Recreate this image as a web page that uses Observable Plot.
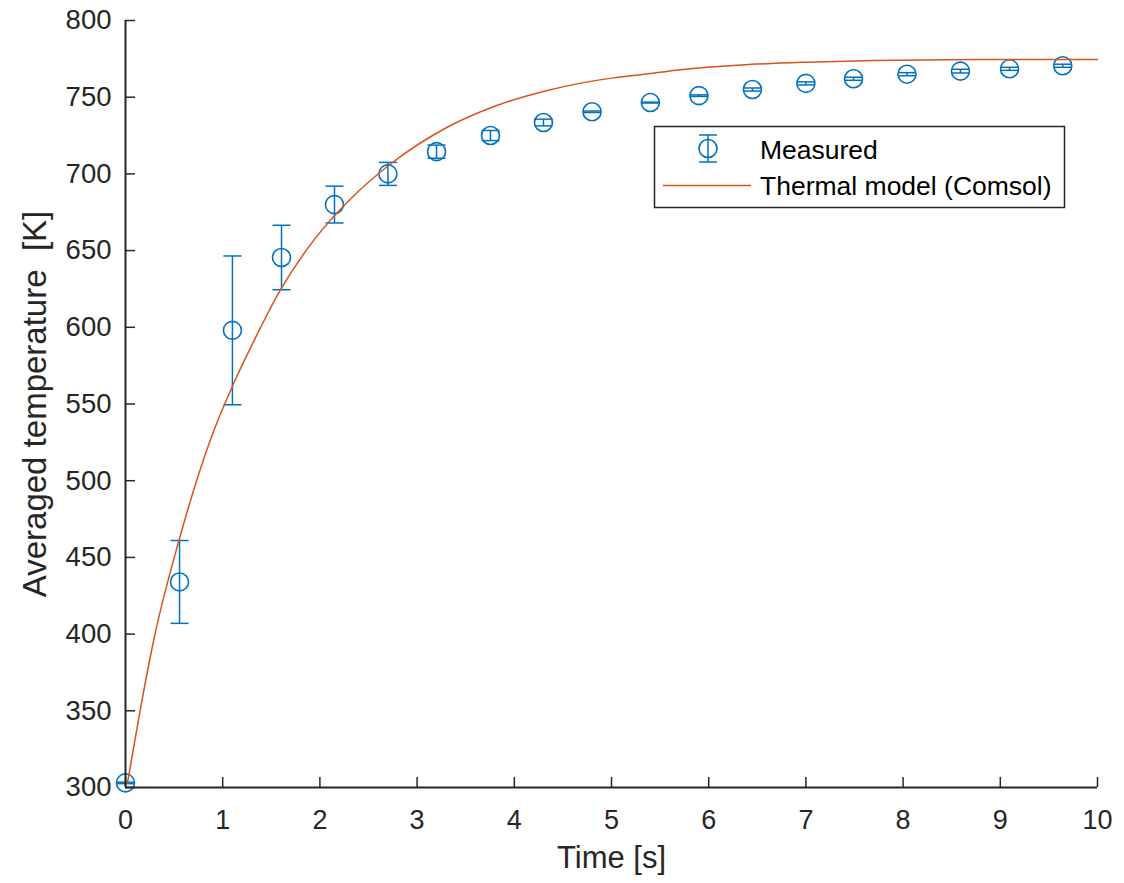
<!DOCTYPE html>
<html>
<head>
<meta charset="utf-8">
<script src="https://cdn.jsdelivr.net/npm/d3@7"></script>
<script src="https://cdn.jsdelivr.net/npm/@observablehq/plot@0.6"></script>
<style>
  html, body { margin: 0; padding: 0; background: #fff; }
  #wrap { position: relative; width: 1124px; height: 883px; font-family: "Liberation Sans", Arial, sans-serif; }
  #legend { position: absolute; left: 0; top: 0; pointer-events: none; }
</style>
</head>
<body>
<div id="wrap"></div>
<script>
// Measured data (time [s], averaged temperature [K], error half-width [K])
const measTime = [0, 0.556, 1.10, 1.605, 2.15, 2.70, 3.20, 3.755, 4.30, 4.80, 5.40, 5.90, 6.45, 7.00, 7.49, 8.04, 8.59, 9.095, 9.643];
const measTemp = [303, 434, 598, 645.5, 680, 700, 714.5, 725, 733.5, 740.5, 746.5, 751, 755, 759, 762, 765, 767, 768.5, 770.5];
const measErr  = [0.5, 27, 48.5, 21, 12, 7.5, 4.3, 3.3, 2.2, 0.5, 0.3, 0.5, 1, 1, 1, 1, 1.2, 1, 1];

// Thermal model (Comsol) curve
const modelTime = [0.02, 0.15, 0.29, 0.55, 0.87, 1.11, 1.32, 1.60, 1.94, 2.32, 2.73, 3.31, 3.82, 4.34, 5.02, 5.30, 5.71, 6.33, 7.00, 7.70, 8.72, 10.0];
const modelTemp = [303, 350, 396, 461, 526, 563, 591, 625, 657, 684, 706.6, 730.4, 744.6, 754.4, 762.6, 764.6, 767.9, 771.0, 772.8, 773.9, 774.5, 774.6];

// Axis ticks
const xTicks = [0, 1, 2, 3, 4, 5, 6, 7, 8, 9, 10];
const yTicks = [300, 350, 400, 450, 500, 550, 600, 650, 700, 750, 800];

const measured = measTime.map((t, i) => ({t, T: measTemp[i], e: measErr[i]}));
const model = modelTime.map((t, i) => ({t, T: modelTemp[i]}));

const blue = "#0072BD", orange = "#D95319", axisColor = "#262626";
const capSymbol = { draw(ctx) { ctx.moveTo(-9, 0); ctx.lineTo(9, 0); } };

const chart = Plot.plot({
  width: 1124,
  height: 883,
  marginLeft: 125,
  marginRight: 27,
  marginTop: 20,
  marginBottom: 96,
  style: { fontFamily: "'Liberation Sans', Arial, sans-serif", color: axisColor, background: "#fff" },
  x: { domain: [0, 10] },
  y: { domain: [300, 800] },
  marks: [
    Plot.axisX({ticks: xTicks, tickSize: -10, tickPadding: 32, fontSize: 27, label: null, stroke: axisColor, strokeWidth: 1.5}),
    Plot.axisY({ticks: yTicks, tickSize: -10, tickPadding: 24, fontSize: 27.5, label: null, stroke: axisColor, strokeWidth: 1.5}),
    Plot.text(["Time [s]"], {frameAnchor: "bottom", dy: 80, fontSize: 31, fill: axisColor}),
    Plot.text(["Averaged temperature\u00a0 [K]"], {frameAnchor: "left", dx: -90, rotate: -90, textAnchor: "middle", fontSize: 33, fill: axisColor}),
    Plot.link(measured, {x1: "t", x2: "t", y1: d => d.T - d.e, y2: d => d.T + d.e, stroke: blue, strokeWidth: 1.5}),
    Plot.dot(measured, {x: "t", y: d => d.T - d.e, symbol: capSymbol, stroke: blue, strokeWidth: 1.5, r: 9}),
    Plot.dot(measured, {x: "t", y: d => d.T + d.e, symbol: capSymbol, stroke: blue, strokeWidth: 1.5, r: 9}),
    Plot.dot(measured, {x: "t", y: "T", r: 9, stroke: blue, strokeWidth: 1.6, fill: "none"}),
    Plot.line(model, {x: "t", y: "T", stroke: orange, strokeWidth: 1.5, curve: "monotone-x"}),
    Plot.ruleX([0], {stroke: axisColor, strokeWidth: 2}),
    Plot.ruleY([300], {stroke: axisColor, strokeWidth: 2})
  ]
});
const wrap = document.getElementById("wrap");
wrap.appendChild(chart);

// Legend overlay
const ns = "http://www.w3.org/2000/svg";
const leg = document.createElementNS(ns, "svg");
leg.setAttribute("id", "legend");
leg.setAttribute("width", 1124);
leg.setAttribute("height", 883);
leg.innerHTML = `
  <rect x="654.5" y="126.5" width="410" height="81" fill="#fff" stroke="${axisColor}" stroke-width="1.5"/>
  <line x1="708" x2="708" y1="135" y2="162" stroke="${blue}" stroke-width="1.5"/>
  <line x1="699" x2="717" y1="135" y2="135" stroke="${blue}" stroke-width="1.5"/>
  <line x1="699" x2="717" y1="162" y2="162" stroke="${blue}" stroke-width="1.5"/>
  <circle cx="708" cy="148.5" r="9" fill="none" stroke="${blue}" stroke-width="1.6"/>
  <line x1="663" x2="751" y1="185.5" y2="185.5" stroke="${orange}" stroke-width="1.5"/>
  <text x="760" y="159" font-size="26.5" fill="#000" font-family="'Liberation Sans', Arial, sans-serif">Measured</text>
  <text x="760" y="195" font-size="26.5" fill="#000" font-family="'Liberation Sans', Arial, sans-serif">Thermal model (Comsol)</text>
`;
wrap.appendChild(leg);
</script>
</body>
</html>
